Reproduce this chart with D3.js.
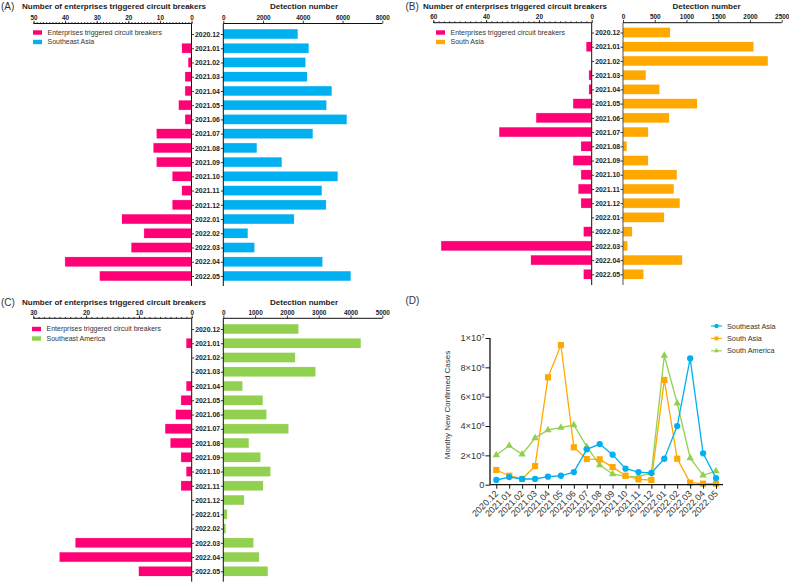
<!DOCTYPE html>
<html><head><meta charset="utf-8">
<script src="https://cdn.jsdelivr.net/npm/d3@7"></script>
<style>html,body{margin:0;padding:0;background:#fff}svg{display:block}text{font-family:"Liberation Sans",Arial,sans-serif}</style>
</head><body><svg id="c" width="789" height="583"></svg>
<script>
const months=["2020.12","2021.01","2021.02","2021.03","2021.04","2021.05","2021.06","2021.07","2021.08","2021.09","2021.10","2021.11","2021.12","2022.01","2022.02","2022.03","2022.04","2022.05"];
const aEnterprises=[0,3,1,2,2,4,2,11,12,11,6,3,6,22,15,19,40,29];
const aDetection=[3740,4290,4125,4210,5450,5180,6205,4495,1680,2935,5750,4950,5165,3555,1225,1560,4980,6405];
const bEnterprises=[0,2,0,1,1,7,21,35,4,7,4,5,4,0,3,57,23,3];
const bDetection=[740,2054,2280,357,572,1166,725,394,58,394,846,798,893,646,142,68,930,320];
const cEnterprises=[0,1,0,0,1,2,3,5,4,2,1,2,0,0,0,22,25,10];
const cDetection=[2358,4320,2254,2893,597,1237,1352,2044,797,1163,1478,1247,650,115,73,943,1121,1394];
const seaCases=[0.32,0.52,0.39,0.39,0.55,0.61,0.86,2.41,2.77,2.05,1.09,0.86,0.80,1.77,4.0,8.61,2.14,0.45];
const saCases=[1.0,0.61,0.39,1.27,7.32,9.52,2.55,1.75,1.73,1.2,0.61,0.36,0.32,7.14,1.77,0.14,0.07,0.07];
const samCases=[2.02,2.66,2.07,3.18,3.73,3.89,4.07,2.59,1.34,0.73,0.57,0.55,0.80,8.8,5.55,1.82,0.64,0.93];

const PINK="#ff0077",BLUE="#00b0f0",ORANGE="#ffa800",GREEN="#92d050";
const svg=d3.select("#c");

function pyramid(o){
  const g=svg.append("g");
  const xL=d3.scaleLinear().domain([0,o.leftMax]).range([o.l0,o.l1]);
  const xR=d3.scaleLinear().domain([0,o.rightMax]).range([o.r0,o.r1]);
  const y=d3.scalePoint().domain(months).range([o.yFirst,o.yLast]);
  const bh=9.4;
  g.selectAll(".l").data(months).join("rect")
    .attr("x",(d,i)=>xL(o.left[i])).attr("y",d=>y(d)-bh/2)
    .attr("width",(d,i)=>o.l0-xL(o.left[i])).attr("height",bh)
    .attr("fill",PINK).attr("stroke",PINK).attr("stroke-opacity",.3).attr("stroke-width",.6);
  g.selectAll(".r").data(months).join("rect")
    .attr("x",o.r0).attr("y",d=>y(d)-bh/2)
    .attr("width",(d,i)=>xR(o.right[i])-o.r0).attr("height",bh)
    .attr("fill",o.color).attr("stroke",o.color).attr("stroke-opacity",.3).attr("stroke-width",.6);

  const topL=d3.axisTop(xL).tickValues(d3.range(0,o.leftMax+1,o.leftStep)).tickSize(2.8).tickPadding(0.6).tickFormat(d3.format("d"));
  const gL=g.append("g").attr("transform",`translate(0,${o.axisY})`).call(topL);
  const gM=g.append("g").attr("transform",`translate(0,${o.axisY})`)
    .call(d3.axisTop(xL).tickValues(d3.range(0,o.leftMax+1,o.leftMinor)).tickSize(1.4).tickFormat(""));
  const gR=g.append("g").attr("transform",`translate(0,${o.axisY})`)
    .call(d3.axisTop(xR).tickValues(d3.range(0,o.rightMax+1,o.rightStep)).tickSize(2.8).tickPadding(0.6).tickFormat(d3.format("d")));
  [gL,gM,gR].forEach(a=>{
    a.select(".domain").attr("stroke","#111").attr("stroke-width",1).attr("d",null);
    a.selectAll("line").attr("stroke","#111").attr("stroke-width",.8);
    a.selectAll("text").attr("font-size",6.4).attr("font-weight","bold").attr("fill","#222");
  });
  gL.select(".domain").attr("d",`M${o.l1},0H${o.l0}`);
  gM.select(".domain").remove();
  gR.select(".domain").attr("d",`M${o.r0},0H${o.r1}`);

  const yA=g.append("g").attr("transform",`translate(${o.l0},0)`)
    .call(d3.axisRight(y).tickSize(2.5).tickPadding(1));
  yA.select(".domain").attr("d",`M0,${o.axisY}V${o.yEnd}`).attr("stroke","#111").attr("stroke-width",1);
  yA.selectAll("line").attr("stroke","#111").attr("stroke-width",.8);
  yA.selectAll("text").attr("font-size",6.9).attr("font-weight","bold").attr("fill","#222");
  const yB=g.append("g").attr("transform",`translate(${o.r0},0)`)
    .call(d3.axisLeft(y).tickSize(2.5).tickFormat(""));
  yB.select(".domain").attr("d",`M0,${o.axisY}V${o.yEnd}`).attr("stroke",o.rightAxis).attr("stroke-width",1);
  yB.selectAll("line").attr("stroke","#111").attr("stroke-width",.8);

  g.append("text").attr("x",o.titleL).attr("y",o.titleY).attr("font-size",8).attr("font-weight","bold").attr("fill","#222").text("Number of enterprises triggered circuit breakers");
  g.append("text").attr("x",o.titleR).attr("y",o.titleY).attr("font-size",8).attr("font-weight","bold").attr("fill","#222").text("Detection number");
  g.append("text").attr("x",o.tagX).attr("y",o.titleY+1).attr("font-size",10).attr("fill","#333").text(o.tag);

  const leg=[["Enterprises triggered circuit breakers",PINK],[o.name,o.color]];
  leg.forEach((l,i)=>{
    const ly=o.legY+i*9.5;
    g.append("rect").attr("x",o.legX).attr("y",ly-2.2).attr("width",9).attr("height",4.4).attr("fill",l[1]);
    g.append("text").attr("x",o.legX+14.5).attr("y",ly+2.4).attr("font-size",7).attr("fill","#333").text(l[0]);
  });
}
pyramid({tag:"(A)",tagX:1,titleL:22,titleR:270,titleY:9,axisY:23.5,l0:191.5,l1:33.5,r0:223.3,r1:382.3,leftMax:50,leftStep:10,leftMinor:1,rightMax:8000,rightStep:2000,yFirst:34,yLast:276,yEnd:286,left:aEnterprises,right:aDetection,color:BLUE,name:"Southeast Asia",rightAxis:"#111",legX:33,legY:32.5});
pyramid({tag:"(B)",tagX:405.5,titleL:423,titleR:672.5,titleY:9,axisY:22.7,l0:591.7,l1:433.3,r0:623,r1:781.7,leftMax:60,leftStep:20,leftMinor:2,rightMax:2500,rightStep:500,yFirst:32.5,yLast:274.3,yEnd:285,left:bEnterprises,right:bDetection,color:ORANGE,name:"South Asia",rightAxis:"#555",legX:436,legY:32.5});
pyramid({tag:"(C)",tagX:1,titleL:22,titleR:270,titleY:304.5,axisY:318.3,l0:191.7,l1:33.3,r0:223.3,r1:382.3,leftMax:30,leftStep:10,leftMinor:1,rightMax:5000,rightStep:1000,yFirst:329,yLast:571.3,yEnd:581.7,left:cEnterprises,right:cDetection,color:GREEN,name:"Southeast America",rightAxis:"#111",legX:32,legY:329});

// Panel D
const gD=svg.append("g");
gD.append("text").attr("x",405.5).attr("y",304).attr("font-size",10).attr("fill","#333").text("(D)");
const xD=d3.scalePoint().domain(months).range([496.3,716]);
const yD=d3.scaleLinear().domain([0,10]).range([484.7,338]);
const series=[{name:"South America",v:samCases,c:GREEN,s:d3.symbolTriangle,size:24,ls:10},{name:"South Asia",v:saCases,c:ORANGE,s:d3.symbolSquare,size:38,ls:15},{name:"Southeast Asia",v:seaCases,c:BLUE,s:d3.symbolCircle,size:31,ls:15}];
const line=d3.line().x((d,i)=>xD(months[i])).y(d=>yD(d));
series.forEach(s=>{
  gD.append("path").attr("d",line(s.v)).attr("fill","none").attr("stroke",s.c).attr("stroke-width",1.3);
  gD.selectAll(null).data(s.v).join("path")
    .attr("d",d3.symbol().type(s.s).size(s.size))
    .attr("transform",(d,i)=>`translate(${xD(months[i])},${yD(d)})`)
    .attr("fill",s.c);
});
const axB=gD.append("g").attr("transform","translate(0,484.7)").call(d3.axisBottom(xD).tickSize(4).tickPadding(2));
axB.select(".domain").attr("d","M490,0H723").attr("stroke","#111").attr("stroke-width",1.3);
axB.selectAll("line").attr("stroke","#111").attr("stroke-width",1);
axB.selectAll("text").attr("font-size",9).attr("fill","#333").attr("text-anchor","end").attr("dy",0).attr("y",0)
  .attr("transform","translate(2,9.5) rotate(-45)");
const axL=gD.append("g").attr("transform","translate(490,0)").call(d3.axisLeft(yD).tickValues([0,2,4,6,8,10]).tickSize(4.5).tickPadding(1.5).tickFormat(""));
axL.select(".domain").attr("d","M0,338V484.7").attr("stroke","#111").attr("stroke-width",1.3);
axL.selectAll("line").attr("stroke","#111").attr("stroke-width",1);
const yLabels=[[0,"0",""],[2,"2×10","6"],[4,"4×10","6"],[6,"6×10","6"],[8,"8×10","6"],[10,"1×10","7"]];
yLabels.forEach(([v,t,e])=>{
  const tx=gD.append("text").attr("x",484.5).attr("y",yD(v)+3.2).attr("text-anchor","end").attr("font-size",9.3).attr("fill","#333");
  tx.append("tspan").text(t);
  if(e) tx.append("tspan").attr("font-size",5.6).attr("dy",-3).text(e);
});
gD.append("text").attr("transform","translate(450,405) rotate(-90)").attr("text-anchor","middle").attr("font-size",8).attr("fill","#333").text("Monthy New Confirmed Cases");
[...series].reverse().forEach((s,i)=>{
  const ly=326+i*12.4;
  gD.append("line").attr("x1",711).attr("x2",722).attr("y1",ly).attr("y2",ly).attr("stroke",s.c).attr("stroke-width",1.1);
  gD.append("path").attr("d",d3.symbol().type(s.s).size(s.ls)).attr("transform",`translate(716.5,${ly})`).attr("fill",s.c);
  gD.append("text").attr("x",727).attr("y",ly+2.5).attr("font-size",7.3).attr("fill","#333").text(s.name);
});
</script></body></html>
